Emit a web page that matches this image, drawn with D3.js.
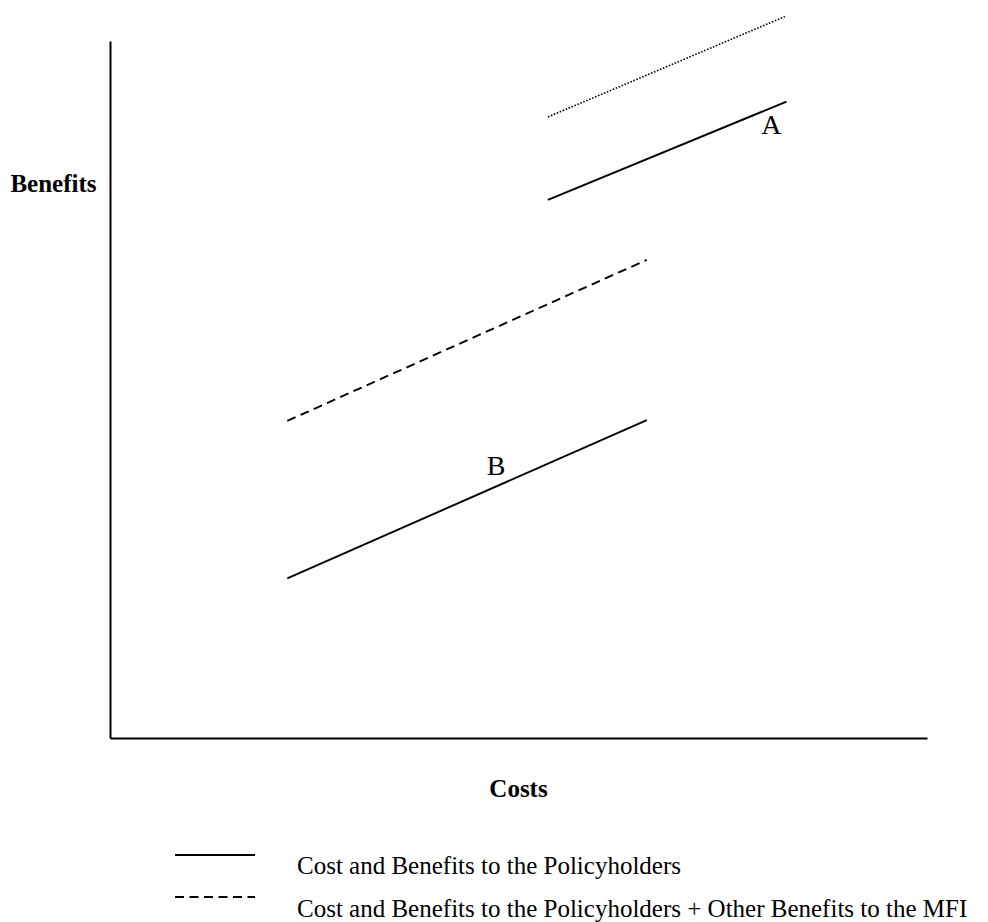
<!DOCTYPE html>
<html>
<head>
<meta charset="utf-8">
<script src="https://cdn.jsdelivr.net/npm/d3@7/dist/d3.min.js"></script>
<style>
  html, body { margin: 0; padding: 0; background: #fff; }
  svg { display: block; }
  text { font-family: "Liberation Serif", "Times New Roman", serif; fill: #000; }
</style>
</head>
<body>
<svg id="chart" width="988" height="922"></svg>
<script>
// ---- data (abstract cost/benefit units) ----
const seriesNames = ["A", "B", "A + MFI", "B + MFI"];
const seriesStyles = ["solid", "solid", "dotted", "dashed"];
const costStart = [5.36, 2.17, 5.36, 2.17];
const costEnd   = [8.28, 6.57, 8.26, 6.57];
const benefitStart = [7.72, 2.29, 8.91, 4.55];
const benefitEnd   = [9.13, 4.56, 10.35, 6.86];

const labelTexts = ["A", "B"];
const labelCost = [7.97, 4.61];
const labelBenefit = [8.67, 3.77];

const axisTitles = ["Costs", "Benefits"];
const legendStyles = ["solid", "dashed"];
const legendTexts = [
  "Cost and Benefits to the Policyholders",
  "Cost and Benefits to the Policyholders + Other Benefits to the MFI"
];

// ---- layout ----
const svg = d3.select("#chart");
const x = d3.scaleLinear().domain([0, 10]).range([110, 927]);
const y = d3.scaleLinear().domain([0, 10]).range([738, 41]);

const dashFor = s => s === "dashed" ? "9,5.5" : s === "dotted" ? "1.6,1.6" : null;

// axes (plain lines, no ticks)
const xAxis = d3.axisBottom(x).tickValues([]).tickSizeOuter(0);
const yAxis = d3.axisLeft(y).tickValues([]).tickSizeOuter(0);
svg.append("g").attr("transform", `translate(0,${y(0)})`).call(xAxis)
  .select(".domain").attr("stroke", "#000").attr("stroke-width", 2);
svg.append("g").attr("transform", `translate(${x(0)},0)`).call(yAxis)
  .select(".domain").attr("stroke", "#000").attr("stroke-width", 2);

// series lines
const rows = seriesNames.map((n, i) => ({
  name: n, style: seriesStyles[i],
  pts: [[costStart[i], benefitStart[i]], [costEnd[i], benefitEnd[i]]]
}));
const line = d3.line().x(d => x(d[0])).y(d => y(d[1]));
svg.append("g").selectAll("path").data(rows).join("path")
  .attr("d", d => line(d.pts))
  .attr("fill", "none")
  .attr("stroke", "#000")
  .attr("stroke-width", d => d.style === "dotted" ? 1.6 : 1.9)
  .attr("stroke-dasharray", d => dashFor(d.style));

// point labels
svg.append("g").selectAll("text").data(labelTexts).join("text")
  .attr("x", (d, i) => x(labelCost[i]))
  .attr("y", (d, i) => y(labelBenefit[i]))
  .attr("font-size", 28)
  .text(d => d);

// axis titles
svg.append("text")
  .attr("x", (x.range()[0] + x.range()[1]) / 2)
  .attr("y", 797)
  .attr("text-anchor", "middle")
  .attr("font-size", 25).attr("font-weight", "bold")
  .text(axisTitles[0]);
svg.append("text")
  .attr("x", 53.5)
  .attr("y", 192)
  .attr("text-anchor", "middle")
  .attr("font-size", 25).attr("font-weight", "bold")
  .text(axisTitles[1]);

// legend
const legendY = [855, 897];
const legendTextY = [874, 917];
const lg = svg.append("g");
legendStyles.forEach((s, i) => {
  lg.append("line")
    .attr("x1", 175).attr("x2", 255)
    .attr("y1", legendY[i]).attr("y2", legendY[i])
    .attr("stroke", "#000").attr("stroke-width", 2)
    .attr("stroke-dasharray", dashFor(s));
  lg.append("text")
    .attr("x", 297).attr("y", legendTextY[i])
    .attr("font-size", 25)
    .text(legendTexts[i]);
});
</script>
</body>
</html>
